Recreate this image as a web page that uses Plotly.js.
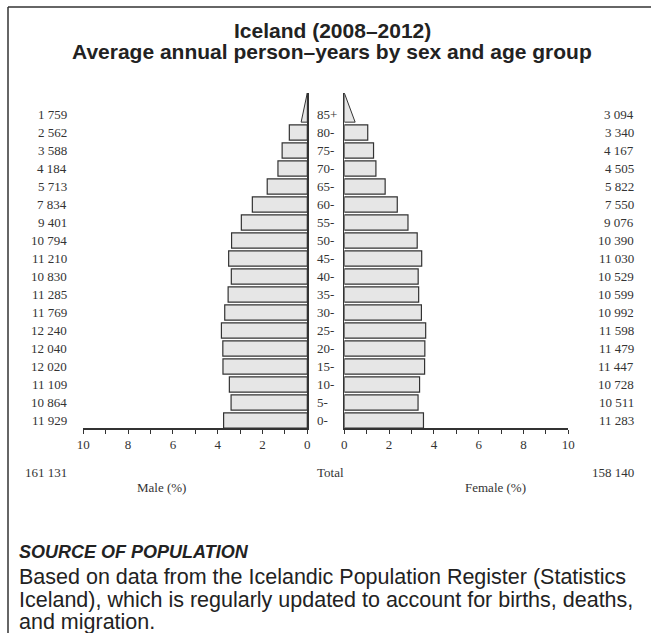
<!DOCTYPE html>
<html>
<head>
<meta charset="utf-8">
<script src="https://cdn.plot.ly/plotly-3.0.1.min.js"></script>
<style>html,body{margin:0;padding:0;background:#fff;}#chart{width:651px;height:633px;}</style>
</head>
<body>
<div id="chart"></div>
<script>
// ---- data ----
const ageGroups = ['0-','5-','10-','15-','20-','25-','30-','35-','40-','45-','50-','55-','60-','65-','70-','75-','80-','85+'];
const maleCounts = [11929,10864,11109,12020,12040,12240,11769,11285,10830,11210,10794,9401,7834,5713,4184,3588,2562,1759];
const femaleCounts = [11283,10511,10728,11447,11479,11598,10992,10599,10529,11030,10390,9076,7550,5822,4505,4167,3340,3094];
const axisTicks = [0,1,2,3,4,5,6,7,8,9,10];
const axisTickText = ['0','','2','','4','','6','','8','','10'];
const titleLines = ['Iceland (2008–2012)', 'Average annual person–years by sex and age group'];
const sourceHeading = 'SOURCE OF POPULATION';
const sourceLines = ['Based on data from the Icelandic Population Register (Statistics',
                     'Iceland), which is regularly updated to account for births, deaths,',
                     'and migration.'];

// ---- derived ----
const maleTotal = maleCounts.reduce((a,b)=>a+b,0);
const femaleTotal = femaleCounts.reduce((a,b)=>a+b,0);
const grand = maleTotal + femaleTotal;
const malePct = maleCounts.map(v=>v/grand*100);
const femalePct = femaleCounts.map(v=>v/grand*100);
const fmt = n => n.toString().replace(/\B(?=(\d{3})+(?!\d))/g,' ');
const idx = ageGroups.map((_,i)=>i);
const nOpen = ageGroups.length-1;   // open-ended group drawn as triangle
const half = 0.425;
const apex = 18.2;

const W = 651, H = 633;
const px = v => v/W;
const py = v => 1 - v/H;

const fillCol = '#e6e6e6', edgeCol = '#333333';
const serif = 'Liberation Serif, Times New Roman, serif';
const sans = 'Liberation Sans, Arial, Helvetica, sans-serif';

const traces = [
  {type:'bar', orientation:'h', x: malePct.slice(0,nOpen), y: idx.slice(0,nOpen), xaxis:'x', yaxis:'y',
   marker:{color:fillCol, line:{color:edgeCol, width:1.2}}, hoverinfo:'skip', showlegend:false},
  {type:'bar', orientation:'h', x: femalePct.slice(0,nOpen), y: idx.slice(0,nOpen), xaxis:'x2', yaxis:'y2',
   marker:{color:fillCol, line:{color:edgeCol, width:1.2}}, hoverinfo:'skip', showlegend:false},
  {type:'scatter', mode:'lines', xaxis:'x', yaxis:'y', fill:'toself', fillcolor:fillCol,
   x:[0, malePct[nOpen]/2, 0, 0], y:[nOpen-half, nOpen-half, apex, nOpen-half],
   line:{color:edgeCol, width:1}, hoverinfo:'skip', showlegend:false},
  {type:'scatter', mode:'lines', xaxis:'x2', yaxis:'y2', fill:'toself', fillcolor:fillCol,
   x:[0, femalePct[nOpen]/2, 0, 0], y:[nOpen-half, nOpen-half, apex, nOpen-half],
   line:{color:edgeCol, width:1}, hoverinfo:'skip', showlegend:false}
];

const xCommon = {tickvals:axisTicks, ticktext:axisTickText, ticks:'outside', ticklen:4, tickwidth:1,
  tickcolor:edgeCol, showline:true, linecolor:edgeCol, linewidth:1.5, showgrid:false, zeroline:false,
  tickfont:{family:serif, size:13, color:'#333'}, fixedrange:true};
const yDom = [py(428.15), py(92.9)];
const yCommon = {range:[-half, apex], domain:yDom, showgrid:false, zeroline:false, showticklabels:false,
  ticks:'', showline:true, linecolor:edgeCol, linewidth:1.5, fixedrange:true};

const annotations = [];
titleLines.forEach((t,i)=>{
  annotations.push({xref:'paper', yref:'paper', x:px(332), y:py(31+i*20), text:'<b>'+t+'</b>', showarrow:false,
    xanchor:'center', yanchor:'middle', font:{family:sans, size:21, color:'#222'}});
});
ageGroups.forEach((g,i)=>{
  annotations.push({xref:'paper', yref:'y', x:px(315), y:i, text:g, showarrow:false, xanchor:'left',
    font:{family:serif, size:13, color:'#333'}});
  annotations.push({xref:'paper', yref:'y', x:px(69), y:i, text:fmt(maleCounts[i]), showarrow:false, xanchor:'right',
    font:{family:serif, size:13, color:'#333'}});
  annotations.push({xref:'paper', yref:'y', x:px(636), y:i, text:fmt(femaleCounts[i]), showarrow:false, xanchor:'right',
    font:{family:serif, size:13, color:'#333'}});
});
annotations.push({xref:'paper', yref:'paper', x:px(69), y:py(472), text:fmt(maleTotal), showarrow:false, xanchor:'right', yanchor:'middle', font:{family:serif, size:13, color:'#333'}});
annotations.push({xref:'paper', yref:'paper', x:px(315), y:py(472), text:'Total', showarrow:false, xanchor:'left', yanchor:'middle', font:{family:serif, size:13, color:'#333'}});
annotations.push({xref:'paper', yref:'paper', x:px(636), y:py(472), text:fmt(femaleTotal), showarrow:false, xanchor:'right', yanchor:'middle', font:{family:serif, size:13, color:'#333'}});
annotations.push({xref:'paper', yref:'paper', x:px(161), y:py(487), text:'Male (%)', showarrow:false, xanchor:'center', yanchor:'middle', font:{family:serif, size:13, color:'#333'}});
annotations.push({xref:'paper', yref:'paper', x:px(495), y:py(487), text:'Female (%)', showarrow:false, xanchor:'center', yanchor:'middle', font:{family:serif, size:13, color:'#333'}});
annotations.push({xref:'paper', yref:'paper', x:px(17), y:py(552), text:'<b><i>'+sourceHeading+'</i></b>', showarrow:false, xanchor:'left', yanchor:'middle', font:{family:sans, size:18, color:'#222'}});
sourceLines.forEach((t,i)=>{
  annotations.push({xref:'paper', yref:'paper', x:px(17), y:py(577+i*22.5), text:t, showarrow:false, xanchor:'left', yanchor:'middle', font:{family:sans, size:21.5, color:'#222'}});
});

const layout = {
  width:W, height:H, margin:{l:0,r:0,t:0,b:0}, paper_bgcolor:'#fff', plot_bgcolor:'rgba(0,0,0,0)',
  bargap:0.15, showlegend:false,
  xaxis: Object.assign({}, xCommon, {domain:[px(83.3), px(307.3)], range:[10,0], anchor:'y'}),
  xaxis2: Object.assign({}, xCommon, {domain:[px(344.3), px(568.3)], range:[0,10], anchor:'y2'}),
  yaxis: Object.assign({}, yCommon, {anchor:'x', side:'right'}),
  yaxis2: Object.assign({}, yCommon, {anchor:'x2', side:'left', matches:'y'}),
  annotations: annotations,
  shapes:[
    {type:'line', xref:'paper', yref:'paper', x0:px(8), x1:1, y0:py(7), y1:py(7), line:{color:'#333', width:1.5}},
    {type:'line', xref:'paper', yref:'paper', x0:px(8), x1:px(8), y0:py(7), y1:0, line:{color:'#333', width:1.5}}
  ]
};

Plotly.newPlot('chart', traces, layout, {displayModeBar:false, staticPlot:true});
</script>
</body>
</html>
